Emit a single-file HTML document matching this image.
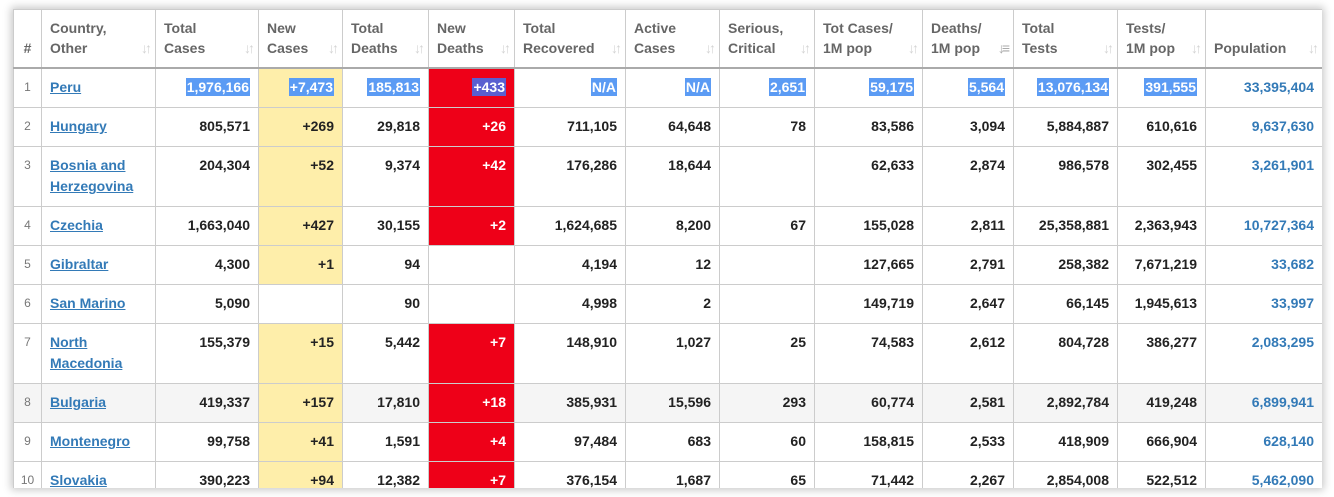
<!DOCTYPE html>
<html><head><meta charset="utf-8">
<style>
body{margin:0;width:1334px;height:497px;background:#fff;overflow:hidden;font-family:"Liberation Sans",Arial,sans-serif;}
#wrap{position:absolute;left:13px;top:9px;width:1309px;height:479px;overflow:hidden;box-shadow:0 0 8px 2px rgba(0,0,0,0.22);background:#fff;}
table{border-collapse:collapse;table-layout:fixed;width:1309px;}
td,th{border:1px solid #ccc;font-size:14px;font-weight:bold;color:#222;padding:8px 8px 9px 8px;line-height:21px;vertical-align:top;text-align:right;overflow:hidden;white-space:nowrap}
th{color:#666;text-align:left;vertical-align:bottom;line-height:20px;padding:8px 8px 9px 8px;height:39px;position:relative;border-bottom:2px solid #aaa;}
th .s{position:absolute;right:6px;bottom:9px;color:#d4d4d4;font-size:14px;letter-spacing:-3px;}
th.n{text-align:center;padding:8px 2px 9px 2px}
td.n{text-align:center;color:#777;font-weight:normal;font-size:12px;padding-left:0;padding-right:0}
td.c{text-align:left}
td.c a{color:#337ab7;text-decoration:underline}
td.p{color:#337ab7}
.y{background:#feeeaa}
.r{background:#ee0018;color:#fff}
tr.g td{background:#f5f5f5}
tr.g td.y{background:#feeeaa}
tr.g td.r{background:#ee0018}
.h{background:#5b9bf4;color:#fff;padding:1px 1px}
.hd{background:#5a5fd0;color:#fff;padding:1px 1px}
tr.row td{height:21px}
tr.two td{height:42px}
</style></head><body>
<div id="wrap">
<table>
<colgroup><col style="width:28px"><col style="width:114px"><col style="width:103px"><col style="width:84px"><col style="width:86px"><col style="width:86px"><col style="width:111px"><col style="width:94px"><col style="width:95px"><col style="width:108px"><col style="width:91px"><col style="width:104px"><col style="width:88px"><col style="width:117px"></colgroup>
<thead><tr>
<th class="n">#</th>
<th>Country,<br>Other<span class="s">↓↑</span></th>
<th>Total<br>Cases<span class="s">↓↑</span></th>
<th>New<br>Cases<span class="s">↓↑</span></th>
<th>Total<br>Deaths<span class="s">↓↑</span></th>
<th>New<br>Deaths<span class="s">↓↑</span></th>
<th>Total<br>Recovered<span class="s">↓↑</span></th>
<th>Active<br>Cases<span class="s">↓↑</span></th>
<th>Serious,<br>Critical<span class="s">↓↑</span></th>
<th>Tot Cases/<br>1M pop<span class="s">↓↑</span></th>
<th>Deaths/<br>1M pop<span class="s" style="color:#aaa">↓≡</span></th>
<th>Total<br>Tests<span class="s">↓↑</span></th>
<th>Tests/<br>1M pop<span class="s">↓↑</span></th>
<th>Population<span class="s">↓↑</span></th>
</tr></thead>
<tbody>
<tr class="row"><td class="n">1</td><td class="c"><a>Peru</a></td><td><span class="h">1,976,166</span></td><td class="y"><span class="h">+7,473</span></td><td><span class="h">185,813</span></td><td class="r"><span class="hd">+433</span></td><td><span class="h">N/A</span></td><td><span class="h">N/A</span></td><td><span class="h">2,651</span></td><td><span class="h">59,175</span></td><td><span class="h">5,564</span></td><td><span class="h">13,076,134</span></td><td><span class="h">391,555</span></td><td class="p">33,395,404</td></tr>
<tr class="row"><td class="n">2</td><td class="c"><a>Hungary</a></td><td>805,571</td><td class="y">+269</td><td>29,818</td><td class="r">+26</td><td>711,105</td><td>64,648</td><td>78</td><td>83,586</td><td>3,094</td><td>5,884,887</td><td>610,616</td><td class="p">9,637,630</td></tr>
<tr class="two"><td class="n">3</td><td class="c"><a>Bosnia and<br>Herzegovina</a></td><td>204,304</td><td class="y">+52</td><td>9,374</td><td class="r">+42</td><td>176,286</td><td>18,644</td><td></td><td>62,633</td><td>2,874</td><td>986,578</td><td>302,455</td><td class="p">3,261,901</td></tr>
<tr class="row"><td class="n">4</td><td class="c"><a>Czechia</a></td><td>1,663,040</td><td class="y">+427</td><td>30,155</td><td class="r">+2</td><td>1,624,685</td><td>8,200</td><td>67</td><td>155,028</td><td>2,811</td><td>25,358,881</td><td>2,363,943</td><td class="p">10,727,364</td></tr>
<tr class="row"><td class="n">5</td><td class="c"><a>Gibraltar</a></td><td>4,300</td><td class="y">+1</td><td>94</td><td></td><td>4,194</td><td>12</td><td></td><td>127,665</td><td>2,791</td><td>258,382</td><td>7,671,219</td><td class="p">33,682</td></tr>
<tr class="row"><td class="n">6</td><td class="c"><a>San Marino</a></td><td>5,090</td><td></td><td>90</td><td></td><td>4,998</td><td>2</td><td></td><td>149,719</td><td>2,647</td><td>66,145</td><td>1,945,613</td><td class="p">33,997</td></tr>
<tr class="two"><td class="n">7</td><td class="c"><a>North<br>Macedonia</a></td><td>155,379</td><td class="y">+15</td><td>5,442</td><td class="r">+7</td><td>148,910</td><td>1,027</td><td>25</td><td>74,583</td><td>2,612</td><td>804,728</td><td>386,277</td><td class="p">2,083,295</td></tr>
<tr class="row g"><td class="n">8</td><td class="c"><a>Bulgaria</a></td><td>419,337</td><td class="y">+157</td><td>17,810</td><td class="r">+18</td><td>385,931</td><td>15,596</td><td>293</td><td>60,774</td><td>2,581</td><td>2,892,784</td><td>419,248</td><td class="p">6,899,941</td></tr>
<tr class="row"><td class="n">9</td><td class="c"><a>Montenegro</a></td><td>99,758</td><td class="y">+41</td><td>1,591</td><td class="r">+4</td><td>97,484</td><td>683</td><td>60</td><td>158,815</td><td>2,533</td><td>418,909</td><td>666,904</td><td class="p">628,140</td></tr>
<tr class="row"><td class="n">10</td><td class="c"><a>Slovakia</a></td><td>390,223</td><td class="y">+94</td><td>12,382</td><td class="r">+7</td><td>376,154</td><td>1,687</td><td>65</td><td>71,442</td><td>2,267</td><td>2,854,008</td><td>522,512</td><td class="p">5,462,090</td></tr>
</tbody></table>
</div>
</body></html>
